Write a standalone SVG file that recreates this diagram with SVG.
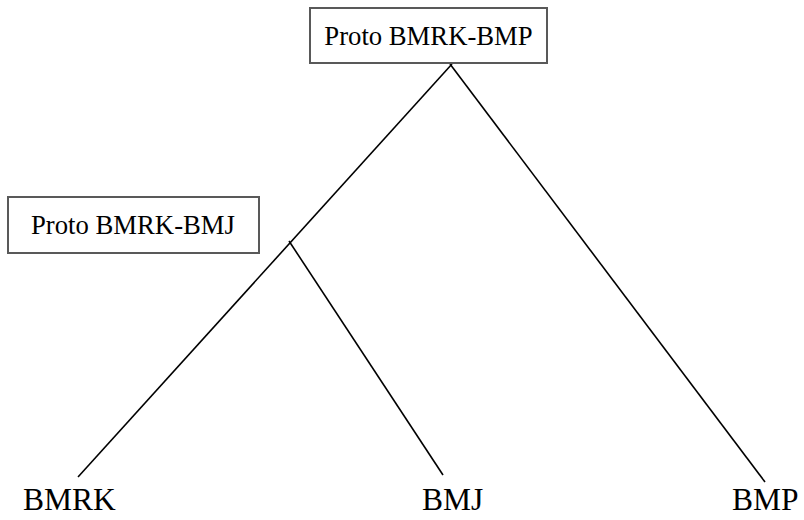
<svg xmlns="http://www.w3.org/2000/svg" width="804" height="520" viewBox="0 0 804 520">
<style>
.box{fill:#fff;stroke:#595959;stroke-width:2}
.lbl{font-family:"Liberation Serif","Times New Roman",serif;fill:#000}
.edge{stroke:#000;stroke-width:1.6;fill:none}
</style>
<rect width="804" height="520" fill="#fff"/>
<g id="connectors">
<line class="edge" x1="452" y1="64" x2="78" y2="477"/>
<line class="edge" x1="450" y1="64" x2="765" y2="482"/>
<line class="edge" x1="289" y1="241" x2="443" y2="475"/>
</g>
<g id="proto-bmrk-bmp">
<rect class="box" x="310" y="8" width="237" height="55"/>
<text class="lbl" x="428.5" y="45" font-size="26.7" text-anchor="middle">Proto BMRK-BMP</text>
</g>
<g id="proto-bmrk-bmj">
<rect class="box" x="8" y="197" width="251" height="56"/>
<text class="lbl" x="133" y="234" font-size="26.7" text-anchor="middle">Proto BMRK-BMJ</text>
</g>
<g id="bmrk"><text class="lbl" x="23" y="510" font-size="31.5">BMRK</text></g>
<g id="bmj"><text class="lbl" x="422" y="510" font-size="31.5">BMJ</text></g>
<g id="bmp"><text class="lbl" x="732" y="510" font-size="31.5">BMP</text></g>
</svg>
